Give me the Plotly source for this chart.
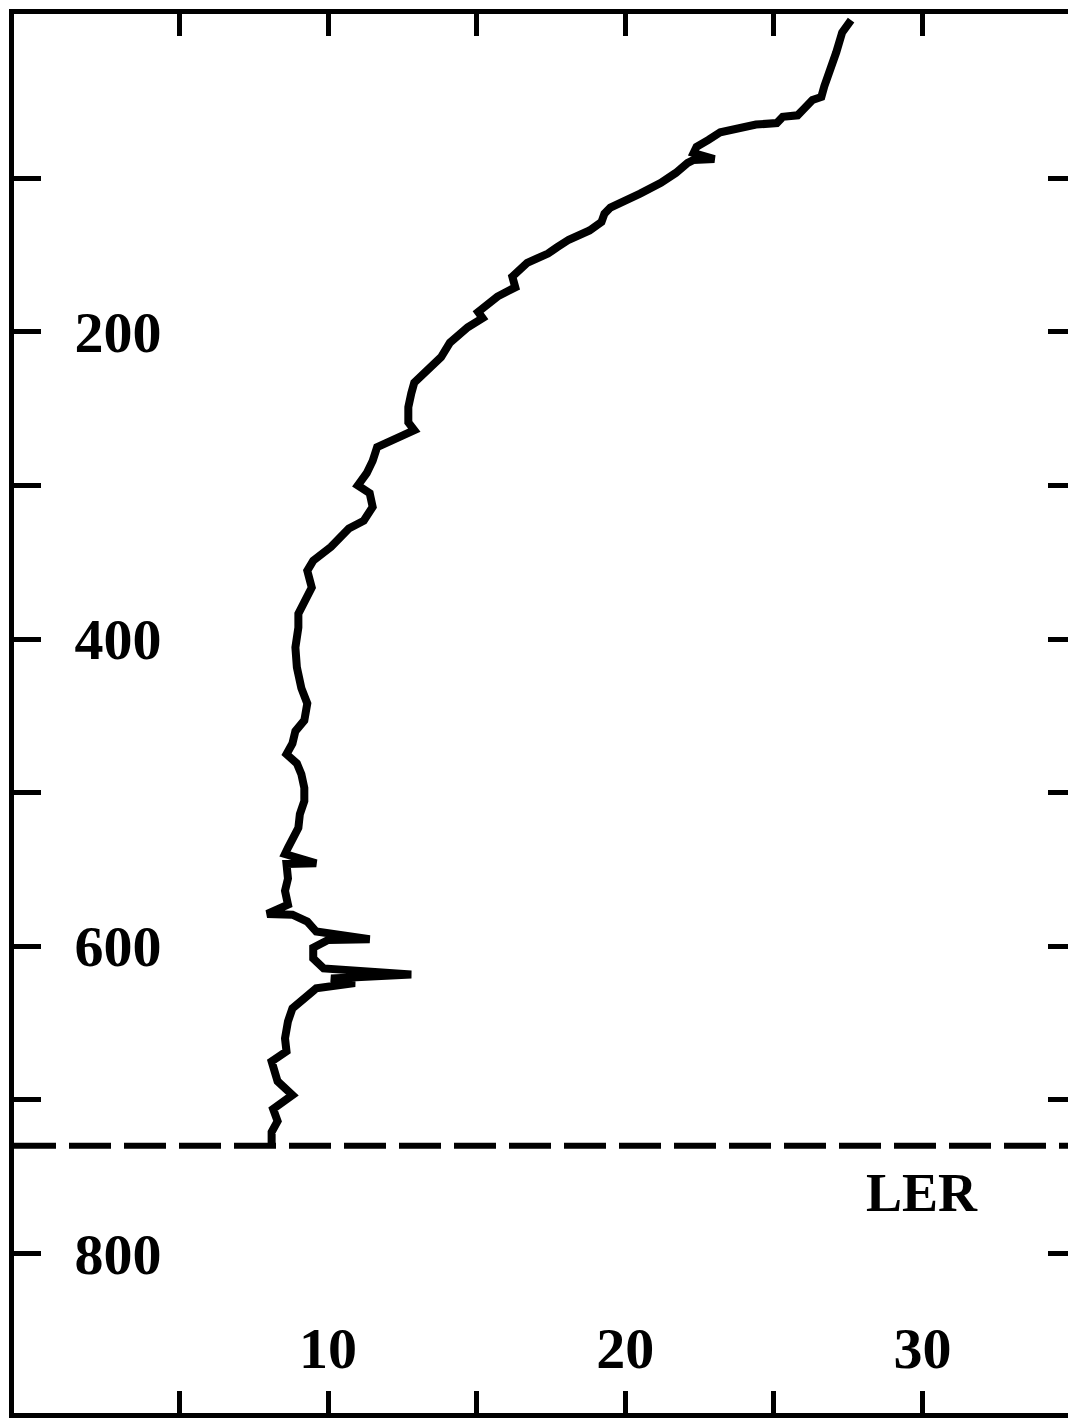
import plotly.graph_objects as go

# Profile values (x) against depth (y)
value = [27.6, 27.3, 27.1, 27.0, 26.9, 26.7, 26.6, 26.3, 26.0, 25.8, 25.3, 25.1, 24.4, 23.8, 23.2,
         22.8, 22.4, 22.3, 23.0, 22.3, 22.1, 21.7, 21.2, 20.5, 19.9, 19.5, 19.3, 19.2, 18.8, 18.1,
         17.7, 17.4, 16.7, 16.2, 16.3, 15.7, 15.05, 15.2, 14.7, 14.1, 13.8, 13.3, 12.9, 12.8, 12.7,
         12.7, 12.9, 12.5, 12.1, 11.65, 11.5, 11.3, 11.0, 11.4, 11.5, 11.2, 10.7, 10.1, 9.5, 9.3,
         9.45, 9.2, 9.0, 9.0, 8.9, 8.95, 9.1, 9.3, 9.2, 8.9, 8.8, 8.6, 8.95, 9.1, 9.2, 9.2, 9.05,
         9.0, 8.85, 8.65, 8.55, 9.6, 8.6, 8.65, 8.55, 8.65, 7.95, 8.8, 9.3, 9.6, 11.4, 10.0, 9.5,
         9.5, 9.85, 12.8, 10.1, 10.9, 9.6, 9.2, 8.8, 8.65, 8.55, 8.6, 8.1, 8.3, 8.8, 8.15, 8.3,
         8.1, 8.1]
depth = [-3, 5, 18, 23, 30, 40, 47, 49, 55, 59, 60, 64, 65, 67, 70,
         75, 79.5, 83.5, 87.5, 88, 90, 96.5, 103, 110, 116, 119, 123, 128.5, 134, 140,
         145, 149, 155, 164, 171, 177, 187, 191, 197, 207, 216.5, 225, 233, 240, 249,
         259, 264, 267.5, 271, 275, 284, 292, 300, 305, 314, 323, 328, 340, 349, 355.5,
         366.5, 377, 383.5, 392.5, 405.5, 418.5, 432, 442, 453, 460, 468, 475, 481, 488, 497, 505.5, 514,
         523, 530, 536, 540, 546, 546.5, 556, 564, 573, 579, 579.5, 584, 590.5, 595.5, 596, 601,
         608, 614.5, 618.5, 621, 624, 627.5, 634, 640.5, 649, 660, 668.5, 675, 688, 697, 706, 714,
         721, 729]

ler_depth = 730
ler_label = "LER"
ler_label_pos = (30, 761)

x_tickvals = [5, 10, 15, 20, 25, 30]
x_ticktext = ["", "10", "", "20", "", "30"]
y_tickvals = [100, 200, 300, 400, 500, 600, 700, 800]
y_ticktext = ["", "200", "", "400", "", "600", "", "800"]

FONT = "Liberation Serif"

fig = go.Figure()
fig.add_trace(go.Scatter(x=value, y=depth, mode="lines",
                         line=dict(color="black", width=8), showlegend=False))
# empty trace that only makes the right-hand tick axis render
fig.add_trace(go.Scatter(x=[], y=[], yaxis="y2", showlegend=False, hoverinfo="skip"))

fig.add_shape(type="line", xref="paper", yref="y", x0=0, x1=1, y0=ler_depth, y1=ler_depth,
              line=dict(color="black", width=6, dash="42px,13px"))

fig.add_annotation(x=ler_label_pos[0], y=ler_label_pos[1], text=ler_label, showarrow=False,
                   font=dict(family=FONT, size=54, color="black", weight="bold"),
                   xref="x", yref="y")

fig.update_layout(
    width=1068, height=1418,
    margin=dict(l=14, r=0, t=14, b=5),
    paper_bgcolor="white", plot_bgcolor="white",
    xaxis=dict(range=[-0.57, 34.9], tickvals=x_tickvals, ticktext=x_ticktext,
               ticks="inside", ticklen=22, tickwidth=5, tickcolor="black",
               showline=True, linewidth=5, linecolor="black", mirror="ticks",
               ticklabelposition="inside", ticklabelstandoff=20,
               showgrid=False, zeroline=False,
               tickfont=dict(family=FONT, size=58, color="black", weight="bold")),
    yaxis=dict(range=[904, -7], tickvals=y_tickvals, ticktext=y_ticktext,
               ticks="inside", ticklen=27, tickwidth=5, tickcolor="black",
               showline=True, linewidth=5, linecolor="black", mirror=False,
               ticklabelposition="inside", ticklabelstandoff=42,
               showgrid=False, zeroline=False,
               tickfont=dict(family=FONT, size=58, color="black", weight="bold")),
    # right-hand ticks only (the frame's right line lies beyond the picture)
    yaxis2=dict(overlaying="y", side="right", anchor="x",
                range=[904, -7], tickvals=y_tickvals, showticklabels=False,
                ticks="inside", ticklen=20, tickwidth=5, tickcolor="black",
                showline=False, showgrid=False, zeroline=False),
)

fig.write_html("out.html", config={"displayModeBar": False},
               post_script="document.body.style.margin='0';document.body.style.overflow='hidden';")
